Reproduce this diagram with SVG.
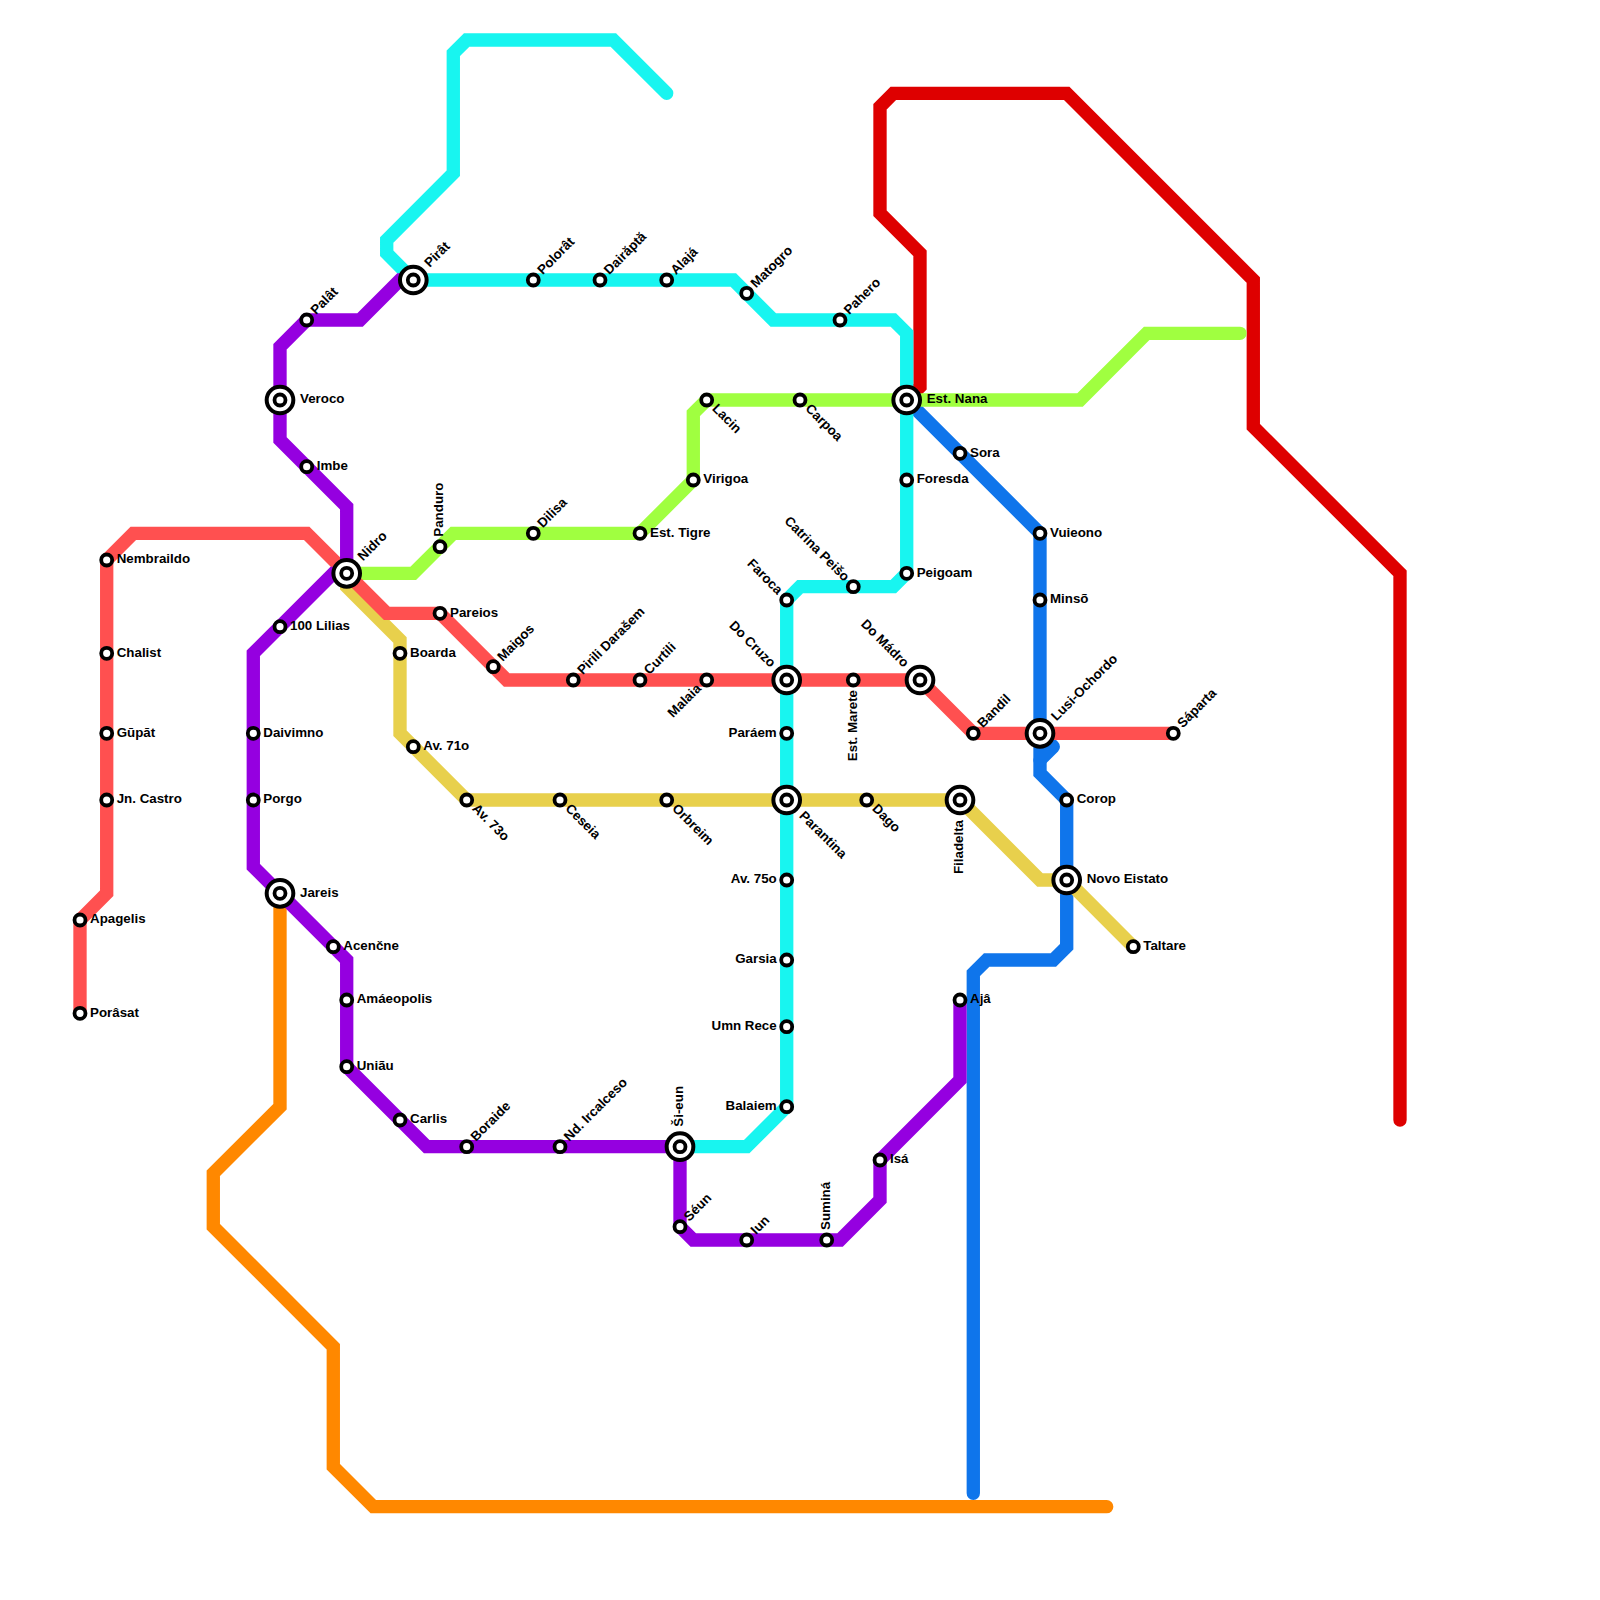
<svg xmlns="http://www.w3.org/2000/svg" width="1600" height="1600" viewBox="0 0 1600 1600">
<style>
.l{fill:none;stroke-width:13.33;stroke-linecap:round;stroke-linejoin:miter}
.j{stroke-linejoin:round}
.s{fill:#fff;stroke:#000;stroke-width:3.8}
.o{fill:#fff;stroke:#000;stroke-width:4}
text{font-family:"Liberation Sans",Arial,sans-serif;font-weight:bold;font-size:13.33px;fill:#000}
.e{text-anchor:end}
</style>
<rect width="1600" height="1600" fill="#fff"/>
<g id="connectors">
<path class="l" stroke="#de0000" d="M906.7 400L920 386.7V253.3L880 213.3V106.7L893.3 93.3H1066.7L1253.3 280V426.7L1400 573.3V1120"/>
<path class="l" stroke="#ff8800" d="M280 893.3V1106.7L213.3 1173.3V1226.7L333.3 1346.7V1466.7L373.3 1506.7H1106.7"/>
<path class="l" stroke="#0f75eb" d="M906.7 400L1040 533.3V773.3L1066.7 800V946.7L1053.3 960H986.7L973.3 973.3V1493.3"/>
<path class="l j" stroke="#0f75eb" d="M1040 733.3L1053.3 746.7L1040 760"/>
<path class="l" stroke="#18f5f0" d="M666.7 93.3L613.3 40H466.7L453.3 53.3V173.3L386.7 240V253.3L413.3 280H733.3L773.3 320H893.3L906.7 333.3V573.3L893.3 586.7H800L786.7 600V1106.7L746.7 1146.7H680"/>
<path class="l" stroke="#e8d04c" d="M346.7 573.3V586.7L400 640V733.3L466.7 800H960L1040 880H1066.7L1133.3 946.7"/>
<path class="l" stroke="#a0ff40" d="M346.7 573.3H413.3L453.3 533.3H640L693.3 480V413.3L706.7 400H1080L1146.7 333.3H1240"/>
<path class="l" stroke="#ff5050" d="M80 1013.3V920L106.7 893.3V560L133.3 533.3H306.7L386.7 613.3H440L506.7 680H920L973.3 733.3H1173.3"/>
<path class="l" stroke="#9500e0" d="M413.3 280H400L360 320H306.7L280 346.7V440L346.7 506.7V573.3H333.3L253.3 653.3V866.7L346.7 960V1066.7L426.7 1146.7H680V1226.7L693.3 1240H840L880 1200V1160L960 1080V1000"/>
</g>
<defs>
<g id="sm"><circle class="s" r="5.5"/></g>
<g id="lg"><circle class="o" r="13.33"/><circle class="s" r="5.5"/></g>
</defs>
<g id="n1" transform="translate(413.3 280)"><use href="#lg"/><text transform="rotate(-45)" x="20" y="3.2">Pirât</text></g>
<g id="n2" transform="translate(533.3 280)"><use href="#sm"/><text transform="rotate(-45)" x="10" y="3.2">Polorât</text></g>
<g id="n3" transform="translate(600 280)"><use href="#sm"/><text transform="rotate(-45)" x="10" y="3.2">Dairăptă</text></g>
<g id="n4" transform="translate(666.7 280)"><use href="#sm"/><text transform="rotate(-45)" x="10" y="3.2">Alajá</text></g>
<g id="n5" transform="translate(746.7 293.3)"><use href="#sm"/><text transform="rotate(-45)" x="10" y="3.2">Matogro</text></g>
<g id="n6" transform="translate(840 320)"><use href="#sm"/><text transform="rotate(-45)" x="10" y="3.2">Pahero</text></g>
<g id="n7" transform="translate(306.7 320)"><use href="#sm"/><text transform="rotate(-45)" x="10" y="3.2">Palât</text></g>
<g id="n8" transform="translate(280 400)"><use href="#lg"/><text x="20" y="3.2">Veroco</text></g>
<g id="n9" transform="translate(306.7 466.7)"><use href="#sm"/><text x="10" y="3.2">Imbe</text></g>
<g id="n10" transform="translate(346.7 573.3)"><use href="#lg"/><text transform="rotate(-45)" x="20" y="3.2">Nidro</text></g>
<g id="n11" transform="translate(280 626.7)"><use href="#sm"/><text x="10" y="3.2">100 Lilias</text></g>
<g id="n12" transform="translate(400 653.3)"><use href="#sm"/><text x="10" y="3.2">Boarda</text></g>
<g id="n13" transform="translate(440 613.3)"><use href="#sm"/><text x="10" y="3.2">Pareios</text></g>
<g id="n14" transform="translate(493.3 666.7)"><use href="#sm"/><text transform="rotate(-45)" x="10" y="3.2">Maigos</text></g>
<g id="n15" transform="translate(573.3 680)"><use href="#sm"/><text transform="rotate(-45)" x="10" y="3.2">Pirili Darašem</text></g>
<g id="n16" transform="translate(640 680)"><use href="#sm"/><text transform="rotate(-45)" x="10" y="3.2">Curtili</text></g>
<g id="n17" transform="translate(706.7 680)"><use href="#sm"/><text class="e" transform="rotate(-45)" x="-10" y="3.2">Malaia</text></g>
<g id="n18" transform="translate(440 546.7)"><use href="#sm"/><text transform="rotate(-90)" x="10" y="3.2">Panduro</text></g>
<g id="n19" transform="translate(533.3 533.3)"><use href="#sm"/><text transform="rotate(-45)" x="10" y="3.2">Dilisa</text></g>
<g id="n20" transform="translate(640 533.3)"><use href="#sm"/><text x="10" y="3.2">Est. Tigre</text></g>
<g id="n21" transform="translate(693.3 480)"><use href="#sm"/><text x="10" y="3.2">Virigoa</text></g>
<g id="n22" transform="translate(706.7 400)"><use href="#sm"/><text transform="rotate(45)" x="10" y="3.2">Lacin</text></g>
<g id="n23" transform="translate(800 400)"><use href="#sm"/><text transform="rotate(45)" x="10" y="3.2">Carpoa</text></g>
<g id="n24" transform="translate(906.7 400)"><use href="#lg"/><text x="20" y="3.2">Est. Nana</text></g>
<g id="n25" transform="translate(906.7 480)"><use href="#sm"/><text x="10" y="3.2">Foresda</text></g>
<g id="n26" transform="translate(906.7 573.3)"><use href="#sm"/><text x="10" y="3.2">Peigoam</text></g>
<g id="n27" transform="translate(853.3 586.7)"><use href="#sm"/><text class="e" transform="rotate(45)" x="-10" y="3.2">Catrina Peišo</text></g>
<g id="n28" transform="translate(786.7 600)"><use href="#sm"/><text class="e" transform="rotate(45)" x="-10" y="3.2">Faroca</text></g>
<g id="n29" transform="translate(786.7 680)"><use href="#lg"/><text class="e" transform="rotate(45)" x="-20" y="3.2">Do Cruzo</text></g>
<g id="n30" transform="translate(853.3 680)"><use href="#sm"/><text class="e" transform="rotate(-90)" x="-10" y="3.2">Est. Marete</text></g>
<g id="n31" transform="translate(920 680)"><use href="#lg"/><text class="e" transform="rotate(45)" x="-20" y="3.2">Do Mádro</text></g>
<g id="n32" transform="translate(973.3 733.3)"><use href="#sm"/><text transform="rotate(-45)" x="10" y="3.2">Bandil</text></g>
<g id="n33" transform="translate(1040 733.3)"><use href="#lg"/><text transform="rotate(-45)" x="20" y="3.2">Lusi-Ochordo</text></g>
<g id="n34" transform="translate(1173.3 733.3)"><use href="#sm"/><text transform="rotate(-45)" x="10" y="3.2">Sáparta</text></g>
<g id="n35" transform="translate(786.7 733.3)"><use href="#sm"/><text class="e" x="-10" y="3.2">Paráem</text></g>
<g id="n36" transform="translate(786.7 800)"><use href="#lg"/><text transform="rotate(45)" x="20" y="3.2">Parantina</text></g>
<g id="n37" transform="translate(866.7 800)"><use href="#sm"/><text transform="rotate(45)" x="10" y="3.2">Dago</text></g>
<g id="n38" transform="translate(960 800)"><use href="#lg"/><text class="e" transform="rotate(-90)" x="-20" y="3.2">Filadelta</text></g>
<g id="n39" transform="translate(786.7 880)"><use href="#sm"/><text class="e" x="-10" y="3.2">Av. 75o</text></g>
<g id="n40" transform="translate(786.7 960)"><use href="#sm"/><text class="e" x="-10" y="3.2">Garsia</text></g>
<g id="n41" transform="translate(786.7 1026.7)"><use href="#sm"/><text class="e" x="-10" y="3.2">Umn Rece</text></g>
<g id="n42" transform="translate(786.7 1106.7)"><use href="#sm"/><text class="e" x="-10" y="3.2">Balaiem</text></g>
<g id="n43" transform="translate(1066.7 800)"><use href="#sm"/><text x="10" y="3.2">Corop</text></g>
<g id="n44" transform="translate(1066.7 880)"><use href="#lg"/><text x="20" y="3.2">Novo Eistato</text></g>
<g id="n45" transform="translate(1133.3 946.7)"><use href="#sm"/><text x="10" y="3.2">Taltare</text></g>
<g id="n46" transform="translate(1040 533.3)"><use href="#sm"/><text x="10" y="3.2">Vuieono</text></g>
<g id="n47" transform="translate(1040 600)"><use href="#sm"/><text x="10" y="3.2">Minsõ</text></g>
<g id="n48" transform="translate(960 453.3)"><use href="#sm"/><text x="10" y="3.2">Sora</text></g>
<g id="n49" transform="translate(960 1000)"><use href="#sm"/><text x="10" y="3.2">Ajâ</text></g>
<g id="n50" transform="translate(106.7 560)"><use href="#sm"/><text x="10" y="3.2">Nembraildo</text></g>
<g id="n51" transform="translate(106.7 653.3)"><use href="#sm"/><text x="10" y="3.2">Chalist</text></g>
<g id="n52" transform="translate(106.7 733.3)"><use href="#sm"/><text x="10" y="3.2">Gūpāt</text></g>
<g id="n53" transform="translate(106.7 800)"><use href="#sm"/><text x="10" y="3.2">Jn. Castro</text></g>
<g id="n54" transform="translate(80 920)"><use href="#sm"/><text x="10" y="3.2">Apagelis</text></g>
<g id="n55" transform="translate(80 1013.3)"><use href="#sm"/><text x="10" y="3.2">Porâsat</text></g>
<g id="n56" transform="translate(253.3 733.3)"><use href="#sm"/><text x="10" y="3.2">Daivimno</text></g>
<g id="n57" transform="translate(253.3 800)"><use href="#sm"/><text x="10" y="3.2">Porgo</text></g>
<g id="n58" transform="translate(280 893.3)"><use href="#lg"/><text x="20" y="3.2">Jareis</text></g>
<g id="n59" transform="translate(333.3 946.7)"><use href="#sm"/><text x="10" y="3.2">Acenčne</text></g>
<g id="n60" transform="translate(346.7 1000)"><use href="#sm"/><text x="10" y="3.2">Amáeopolis</text></g>
<g id="n61" transform="translate(346.7 1066.7)"><use href="#sm"/><text x="10" y="3.2">Uniãu</text></g>
<g id="n62" transform="translate(400 1120)"><use href="#sm"/><text x="10" y="3.2">Carlis</text></g>
<g id="n63" transform="translate(466.7 1146.7)"><use href="#sm"/><text transform="rotate(-45)" x="10" y="3.2">Boraide</text></g>
<g id="n64" transform="translate(560 1146.7)"><use href="#sm"/><text transform="rotate(-45)" x="10" y="3.2">Nd. Ircalceso</text></g>
<g id="n65" transform="translate(680 1146.7)"><use href="#lg"/><text transform="rotate(-90)" x="20" y="3.2">Ši-eun</text></g>
<g id="n66" transform="translate(680 1226.7)"><use href="#sm"/><text transform="rotate(-45)" x="10" y="3.2">Séun</text></g>
<g id="n67" transform="translate(746.7 1240)"><use href="#sm"/><text transform="rotate(-45)" x="10" y="3.2">Iun</text></g>
<g id="n68" transform="translate(826.7 1240)"><use href="#sm"/><text transform="rotate(-90)" x="10" y="3.2">Suminá</text></g>
<g id="n69" transform="translate(880 1160)"><use href="#sm"/><text x="10" y="3.2">Isá</text></g>
<g id="n70" transform="translate(413.3 746.7)"><use href="#sm"/><text x="10" y="3.2">Av. 71o</text></g>
<g id="n71" transform="translate(466.7 800)"><use href="#sm"/><text transform="rotate(45)" x="10" y="3.2">Av. 73o</text></g>
<g id="n72" transform="translate(560 800)"><use href="#sm"/><text transform="rotate(45)" x="10" y="3.2">Ceseia</text></g>
<g id="n73" transform="translate(666.7 800)"><use href="#sm"/><text transform="rotate(45)" x="10" y="3.2">Orbreim</text></g>
</svg>
